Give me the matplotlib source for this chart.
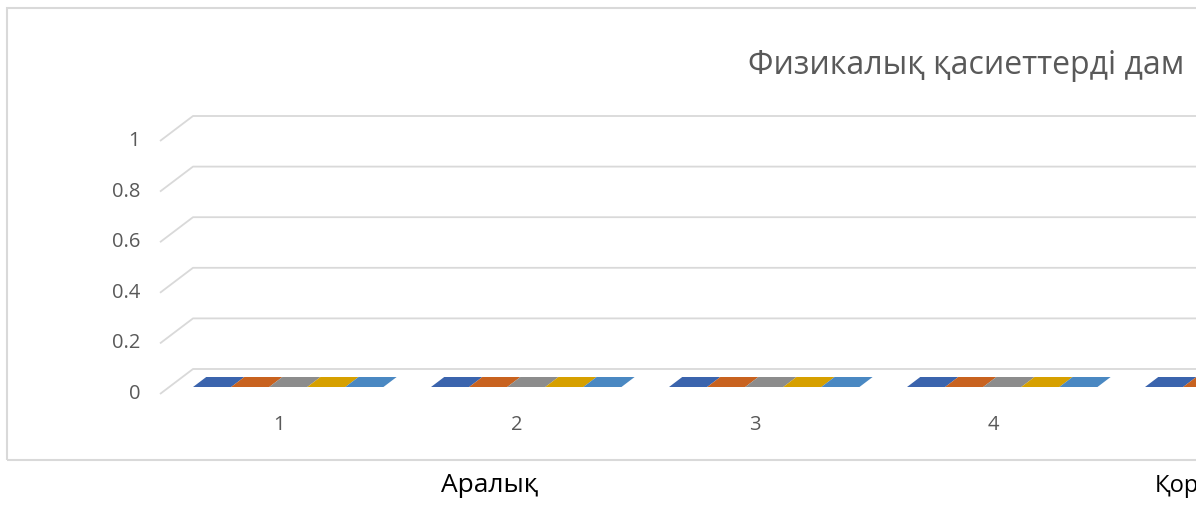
import matplotlib.pyplot as plt
from matplotlib.patches import Polygon, Rectangle

plt.rcParams['font.family'] = ['Open Sans', 'Noto Sans', 'DejaVu Sans']

# data: every series is zero in the picture
categories = ['1', '2', '3', '4', '5']
series_a = [0, 0, 0, 0, 0]
series_b = [0, 0, 0, 0, 0]
series_c = [0, 0, 0, 0, 0]
series_d = [0, 0, 0, 0, 0]
series_e = [0, 0, 0, 0, 0]
yticks = [0, 0.2, 0.4, 0.6, 0.8, 1]
title = 'Физикалық қасиеттерді дам'
below_left = 'Аралық'
below_right = 'Қоры'

# top faces of excel 3d bars look a bit darker than the theme colours
colors = ['#3B64AD', '#C8621F', '#8C8C8C', '#D6A000', '#4A88C2']
grid_col = '#D9D9D9'
text_col = '#595959'

W, H = 1196, 505
fig = plt.figure(figsize=(W / 100, H / 100), dpi=100)

# pixel geometry of the fake 3d plot
x_px = 238.0          # one category in pixels
y_px = 253.0          # one value unit in pixels
x0_px = 193.0         # back wall left edge (category 0.5)
y0_px = H - 369.0     # value 0 on the back wall
xlo, xhi = 0.3, 5.5
ylo, yhi = -0.3, 1.05
ax = fig.add_axes([(x0_px - (0.5 - xlo) * x_px) / W, (y0_px + ylo * y_px) / H,
                   (xhi - xlo) * x_px / W, (yhi - ylo) * y_px / H])
ax.set_xlim(xlo, xhi)
ax.set_ylim(ylo, yhi)
ax.axis('off')

# depth of the floor (front minus back) in data units
DX = -33 / x_px
DY = -25 / y_px

# walls and gridlines
for t in yticks:
    ax.plot([0.5 + DX, 0.5, xhi + 1], [t + DY, t, t], color=grid_col, lw=1.3,
            solid_capstyle='butt', clip_on=False)
    ax.text(0.5 + DX - 20 / x_px, t + DY, f'{t:g}', ha='right', va='center',
            fontsize=14.5, color=text_col)

# bars (flat because the values are zero)
all_series = [series_a, series_b, series_c, series_d, series_e]
group_w = 0.8
bw = group_w / len(all_series)
d1, d2 = 0.32, 0.72
for i, vals in enumerate(all_series):
    for k, v in enumerate(vals):
        xl = (k + 1) - group_w / 2 + i * bw
        xr = xl + bw
        top = [(xl + d1 * DX, v + d1 * DY), (xr + d1 * DX, v + d1 * DY),
               (xr + d2 * DX, v + d2 * DY), (xl + d2 * DX, v + d2 * DY)]
        ax.add_patch(Polygon(top, closed=True, color=colors[i], lw=0, clip_on=False))
        if v > 0:
            ax.add_patch(Rectangle((xl + d2 * DX, d2 * DY), bw, v, color=colors[i], lw=0))

for k, c in enumerate(categories):
    ax.text(k + 1 + DX, DY - 31 / y_px, c, ha='center', va='center',
            fontsize=14.5, color=text_col)

# chart area border
fig.patches.append(Rectangle((7 / W, 1 - 460 / H), 1.2, (460 - 8) / H,
                             transform=fig.transFigure, fill=False,
                             edgecolor=grid_col, lw=1.5))

fig.text(748 / W, 1 - 66 / H, title, ha='left', va='center', fontsize=23, color=text_col)
fig.text(490 / W, 1 - 486 / H, below_left, ha='center', va='center', fontsize=19, color='black')
fig.text(1155 / W, 1 - 486 / H, below_right, ha='left', va='center', fontsize=17, color='black')

fig.savefig('out.png', dpi=100)
